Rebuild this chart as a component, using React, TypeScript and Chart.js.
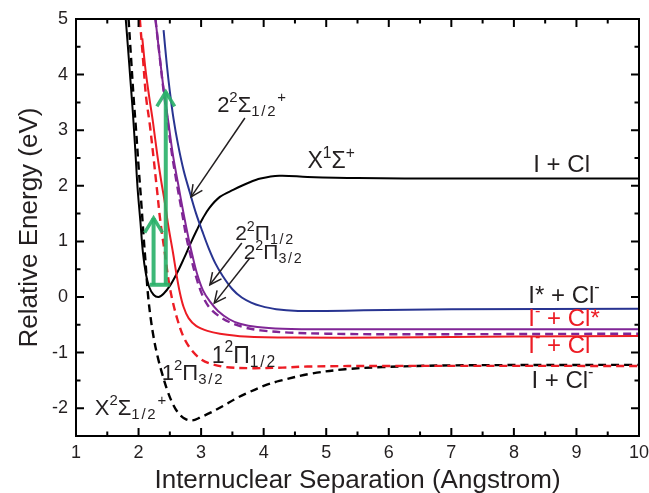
import React, { useEffect, useRef } from 'react';
import { Chart, registerables } from 'chart.js';

Chart.register(...registerables);

// ---------- axis ticks ----------
const X_TICK_VALUES = [1, 2, 3, 4, 5, 6, 7, 8, 9, 10];
const X_TICK_LABELS = ['1', '2', '3', '4', '5', '6', '7', '8', '9', '10'];
const Y_TICK_VALUES = [-2, -1, 0, 1, 2, 3, 4, 5];
const Y_TICK_LABELS = ['-2', '-1', '0', '1', '2', '3', '4', '5'];
const X_MINOR = [1.5, 2.5, 3.5, 4.5, 5.5, 6.5, 7.5, 8.5, 9.5];
const Y_MINOR = [-1.5, -0.5, 0.5, 1.5, 2.5, 3.5, 4.5];

// ---------- potential curves [R (Angstrom), E (eV)] ----------
// X1Σ+ of ICl (black solid)
const X1_SIGMA: [number, number][] = [
  [1.795, 5.0], [1.83, 4.5], [1.87, 3.9], [1.91, 3.3], [1.95, 2.6], [1.985, 1.95],
  [2.03, 1.35], [2.07, 0.8], [2.12, 0.4], [2.17, 0.18], [2.24, 0.04], [2.32, 0.0],
  [2.4, 0.06], [2.5, 0.2], [2.61, 0.42], [2.72, 0.68], [2.83, 0.96], [2.93, 1.2],
  [3.03, 1.42], [3.13, 1.6], [3.3, 1.8], [3.52, 1.93], [3.75, 2.05], [3.95, 2.13],
  [4.25, 2.18], [4.7, 2.16], [5.5, 2.14], [7.0, 2.13], [10.0, 2.13],
];
// X2Σ1/2+ of ICl- (black dashed)
const X2_SIGMA: [number, number][] = [
  [1.84, 5.0], [1.88, 4.3], [1.92, 3.6], [1.96, 3.0], [2.0, 2.35], [2.04, 1.75],
  [2.08, 1.1], [2.11, 0.65], [2.15, 0.05], [2.19, -0.35], [2.24, -0.72], [2.3, -1.05],
  [2.37, -1.35], [2.46, -1.68], [2.56, -1.95], [2.66, -2.12], [2.76, -2.2], [2.86, -2.22],
  [2.98, -2.17], [3.15, -2.08], [3.35, -1.96], [3.55, -1.83], [3.75, -1.72], [4.0, -1.6],
  [4.25, -1.51], [4.75, -1.38], [5.3, -1.3], [5.9, -1.26], [7.0, -1.23], [10.0, -1.22],
];
// 1 2Π3/2 (red dashed)
const PI1_32: [number, number][] = [
  [2.02, 5.0], [2.07, 4.3], [2.12, 3.6], [2.18, 3.1], [2.24, 2.5], [2.29, 1.98],
  [2.35, 1.35], [2.42, 0.79], [2.48, 0.3], [2.54, -0.05], [2.62, -0.4], [2.72, -0.72],
  [2.85, -0.96], [3.0, -1.12], [3.15, -1.2], [3.4, -1.26], [3.8, -1.28], [4.3, -1.27],
  [4.7, -1.25], [6.0, -1.24], [10.0, -1.24],
];
// 1 2Π1/2 (red solid)
const PI1_12: [number, number][] = [
  [2.06, 4.65], [2.11, 4.1], [2.17, 3.6], [2.23, 3.15], [2.3, 2.55], [2.36, 2.1],
  [2.42, 1.7], [2.48, 1.25], [2.55, 0.8], [2.61, 0.38], [2.66, 0.08], [2.72, -0.18],
  [2.8, -0.38], [2.92, -0.52], [3.1, -0.61], [3.3, -0.66], [3.7, -0.71], [4.5, -0.73],
  [6.0, -0.73], [8.0, -0.71], [10.0, -0.7],
];
// 2 2Π1/2 (purple solid)
const PI2_12: [number, number][] = [
  [2.27, 5.0], [2.33, 4.4], [2.4, 3.75], [2.47, 3.2], [2.55, 2.55], [2.63, 2.05],
  [2.72, 1.5], [2.8, 1.05], [2.86, 0.75], [2.94, 0.4], [3.03, 0.12], [3.14, -0.08],
  [3.27, -0.25], [3.45, -0.4], [3.62, -0.48], [3.9, -0.54], [4.3, -0.57], [5.0, -0.58],
  [10.0, -0.58],
];
// 2 2Π3/2 (purple dashed)
const PI2_32: [number, number][] = [
  [2.27, 5.0], [2.33, 4.4], [2.39, 3.8], [2.46, 3.2], [2.53, 2.6], [2.61, 2.05],
  [2.69, 1.55], [2.76, 1.1], [2.83, 0.75], [2.91, 0.4], [3.01, 0.06], [3.12, -0.17],
  [3.27, -0.33], [3.45, -0.45], [3.7, -0.55], [3.95, -0.6], [4.4, -0.64], [5.0, -0.66],
  [6.0, -0.67], [10.0, -0.66],
];
// 2 2Σ1/2+ (blue solid)
const SIGMA2: [number, number][] = [
  [2.4, 4.8], [2.45, 4.2], [2.5, 3.7], [2.56, 3.2], [2.63, 2.75], [2.72, 2.28],
  [2.82, 1.88], [2.92, 1.5], [3.02, 1.18], [3.12, 0.88], [3.23, 0.6], [3.35, 0.37],
  [3.5, 0.14], [3.65, -0.01], [3.8, -0.1], [3.95, -0.16], [4.2, -0.22], [4.55, -0.25],
  [5.0, -0.25], [5.6, -0.24], [7.0, -0.22], [10.0, -0.21],
];

// ---------- excitation arrows (green) ----------
const EXC_BASE_Y = 0.22;
const EXC_BASE_X = [2.18, 2.5];
const EXC_ARROWS: { x: number; top: number }[] = [
  { x: 2.24, top: 1.42 },
  { x: 2.435, top: 3.69 },
];

// ---------- pointer arrows (black) ----------
const POINTERS: { from: [number, number]; to: [number, number] }[] = [
  { from: [3.7, 3.22], to: [2.84, 1.8] },
  { from: [3.65, 0.97], to: [3.14, 0.22] },
  { from: [3.78, 0.7], to: [3.21, -0.11] },
];

// ---------- labels ----------
type Part = [string, 'n' | 'sup' | 'sub'];
const BLACK = '#231f20';
const RED = 'rgb(237,28,36)';
const PURPLE = 'rgb(128,38,150)';
const BLUE = 'rgb(40,52,145)';
const GREEN = 'rgba(40,176,104,0.9)';

const LABELS: { parts: Part[]; at: [number, number]; size: number; color: string }[] = [
  { parts: [['2', 'n'], ['2', 'sup'], ['Σ', 'n'], ['1/2', 'sub'], ['+', 'sup']], at: [3.256, 3.33], size: 22, color: BLACK },
  { parts: [['X', 'n'], ['1', 'sup'], ['Σ', 'n'], ['+', 'sup']], at: [4.7, 2.32], size: 23, color: BLACK },
  { parts: [['2', 'n'], ['2', 'sup'], ['Π', 'n'], ['1/2', 'sub']], at: [3.544, 1.025], size: 21, color: BLACK },
  { parts: [['2', 'n'], ['2', 'sup'], ['Π', 'n'], ['3/2', 'sub']], at: [3.68, 0.68], size: 21, color: BLACK },
  { parts: [['1', 'n'], ['2', 'sup'], ['Π', 'n'], ['1/2', 'sub']], at: [3.17, -1.18], size: 23, color: BLACK },
  { parts: [['1', 'n'], ['2', 'sup'], ['Π', 'n'], ['3/2', 'sub']], at: [2.37, -1.49], size: 22, color: BLACK },
  { parts: [['X', 'n'], ['2', 'sup'], ['Σ', 'n'], ['1/2', 'sub'], ['+', 'sup']], at: [1.3, -2.12], size: 22, color: BLACK },
  { parts: [['I + Cl', 'n']], at: [8.31, 2.25], size: 24, color: BLACK },
  { parts: [['I* + Cl', 'n'], ['-', 'sup']], at: [8.23, -0.1], size: 24, color: BLACK },
  { parts: [['I', 'n'], ['-', 'sup'], [' + Cl*', 'n']], at: [8.23, -0.53], size: 24, color: RED },
  { parts: [['I', 'n'], ['-', 'sup'], [' + Cl', 'n']], at: [8.23, -1.01], size: 24, color: RED },
  { parts: [['I + Cl', 'n'], ['-', 'sup']], at: [8.28, -1.64], size: 24, color: BLACK },
];

const FONT = "'Liberation Sans', Arial, Helvetica, sans-serif";

function drawRich(ctx: CanvasRenderingContext2D, parts: Part[], x: number, y: number, size: number, color: string) {
  let cx = x;
  ctx.fillStyle = color;
  ctx.textAlign = 'left';
  ctx.textBaseline = 'alphabetic';
  for (const [text, mode] of parts) {
    let fs = size;
    let dy = 0;
    let spacing = 0;
    if (mode === 'sup') {
      fs = size * 0.68;
      dy = -size * 0.45;
    } else if (mode === 'sub') {
      fs = size * 0.68;
      dy = size * 0.2;
      spacing = size * 0.08;
    }
    ctx.font = `${fs}px ${FONT}`;
    for (const ch of text) {
      ctx.fillText(ch, cx, y + dy);
      cx += ctx.measureText(ch).width + spacing;
    }
  }
}

function head(ctx: CanvasRenderingContext2D, tx: number, ty: number, fx: number, fy: number, len: number, ang: number) {
  const a = Math.atan2(fy - ty, fx - tx);
  ctx.beginPath();
  ctx.moveTo(tx + len * Math.cos(a + ang), ty + len * Math.sin(a + ang));
  ctx.lineTo(tx, ty);
  ctx.lineTo(tx + len * Math.cos(a - ang), ty + len * Math.sin(a - ang));
  ctx.stroke();
}

const overlay = {
  id: 'overlay',
  afterDatasetsDraw(chart: any) {
    const { ctx, chartArea: a, scales } = chart;
    const xs = scales.x;
    const ys = scales.y;
    const px = (v: number) => xs.getPixelForValue(v);
    const py = (v: number) => ys.getPixelForValue(v);
    ctx.save();
    ctx.lineCap = 'butt';

    // green excitation arrows
    ctx.strokeStyle = GREEN;
    ctx.lineWidth = 4;
    ctx.beginPath();
    ctx.moveTo(px(EXC_BASE_X[0]), py(EXC_BASE_Y));
    ctx.lineTo(px(EXC_BASE_X[1]), py(EXC_BASE_Y));
    ctx.stroke();
    for (const ar of EXC_ARROWS) {
      ctx.lineWidth = 4;
      ctx.beginPath();
      ctx.moveTo(px(ar.x), py(EXC_BASE_Y));
      ctx.lineTo(px(ar.x), py(ar.top));
      ctx.stroke();
      ctx.lineWidth = 3.5;
      head(ctx, px(ar.x), py(ar.top), px(ar.x), py(EXC_BASE_Y), 17, 0.55);
    }

    // black pointer arrows
    ctx.strokeStyle = BLACK;
    ctx.lineWidth = 1.5;
    for (const p of POINTERS) {
      const fx = px(p.from[0]), fy = py(p.from[1]);
      const tx = px(p.to[0]), ty = py(p.to[1]);
      ctx.beginPath();
      ctx.moveTo(fx, fy);
      ctx.lineTo(tx, ty);
      ctx.stroke();
      head(ctx, tx, ty, fx, fy, 13, 0.45);
    }

    // labels
    for (const l of LABELS) {
      drawRich(ctx, l.parts, px(l.at[0]), py(l.at[1]), l.size, l.color);
    }

    // frame
    ctx.strokeStyle = '#000';
    ctx.lineWidth = 2;
    ctx.strokeRect(a.left, a.top, a.right - a.left, a.bottom - a.top);

    // inward ticks on all four sides
    ctx.lineWidth = 2;
    const tickX = (vals: number[], len: number) => {
      for (const v of vals) {
        const x = px(v);
        ctx.beginPath();
        ctx.moveTo(x, a.bottom);
        ctx.lineTo(x, a.bottom - len);
        ctx.moveTo(x, a.top);
        ctx.lineTo(x, a.top + len);
        ctx.stroke();
      }
    };
    const tickY = (vals: number[], len: number) => {
      for (const v of vals) {
        const y = py(v);
        ctx.beginPath();
        ctx.moveTo(a.left, y);
        ctx.lineTo(a.left + len, y);
        ctx.moveTo(a.right, y);
        ctx.lineTo(a.right - len, y);
        ctx.stroke();
      }
    };
    tickX(X_TICK_VALUES, 8);
    tickX(X_MINOR, 4.5);
    tickY(Y_TICK_VALUES, 8);
    tickY(Y_MINOR, 4.5);
    ctx.restore();
  },
};

const toPts = (arr: [number, number][]) => arr.map(([x, y]) => ({ x, y }));

function line(label: string, data: [number, number][], color: string, dashed: boolean) {
  return {
    label,
    data: toPts(data),
    borderColor: color,
    backgroundColor: color,
    borderWidth: dashed ? 2.4 : 2,
    borderDash: dashed ? [8, 5] : [],
    pointRadius: 0,
    fill: false,
    tension: 0.35,
  };
}

export default function App() {
  const ref = useRef<HTMLCanvasElement | null>(null);
  useEffect(() => {
    document.body.style.margin = '0';
    const canvas = ref.current!;
    const chart = new Chart(canvas, {
      type: 'line',
      data: {
        datasets: [
          line('2 2Σ1/2+', SIGMA2, BLUE, false),
          line('2 2Π1/2', PI2_12, PURPLE, false),
          line('2 2Π3/2', PI2_32, PURPLE, true),
          line('1 2Π1/2', PI1_12, RED, false),
          line('1 2Π3/2', PI1_32, RED, true),
          line('X2Σ1/2+', X2_SIGMA, '#000', true),
          line('X1Σ+', X1_SIGMA, '#000', false),
        ],
      },
      options: {
        responsive: false,
        animation: false,
        devicePixelRatio: 1,
        layout: { padding: { top: 19, right: 10, bottom: 0, left: 0 } },
        plugins: { legend: { display: false }, tooltip: { enabled: false } },
        scales: {
          x: {
            type: 'linear',
            min: 1,
            max: 10,
            grid: { display: false, drawTicks: false },
            border: { display: false },
            afterBuildTicks: (s: any) => {
              s.ticks = X_TICK_VALUES.map((v) => ({ value: v }));
            },
            afterFit: (s: any) => {
              s.height = 57;
              s.paddingLeft = 0;
              s.paddingRight = 0;
            },
            ticks: {
              padding: 6,
              color: BLACK,
              maxRotation: 0,
              autoSkip: false,
              font: { family: FONT, size: 18 },
              callback: (v: any) => X_TICK_LABELS[X_TICK_VALUES.indexOf(Number(v))] ?? '',
            },
            title: {
              display: true,
              text: 'Internuclear Separation (Angstrom)',
              color: BLACK,
              padding: { top: 0, bottom: 0 },
              font: { family: FONT, size: 26, lineHeight: 0.92 },
            },
          },
          y: {
            type: 'linear',
            min: -2.5,
            max: 5,
            grid: { display: false, drawTicks: false },
            border: { display: false },
            afterBuildTicks: (s: any) => {
              s.ticks = Y_TICK_VALUES.map((v) => ({ value: v }));
            },
            afterFit: (s: any) => {
              s.width = 76;
              s.paddingTop = 0;
              s.paddingBottom = 0;
            },
            ticks: {
              padding: 8,
              color: BLACK,
              autoSkip: false,
              font: { family: FONT, size: 18 },
              callback: (v: any) => Y_TICK_LABELS[Y_TICK_VALUES.indexOf(Number(v))] ?? '',
            },
            title: {
              display: true,
              text: 'Relative Energy (eV)',
              color: BLACK,
              padding: { top: 18, bottom: 0 },
              font: { family: FONT, size: 26, lineHeight: 0.92 },
            },
          },
        },
      },
      plugins: [overlay],
    });
    return () => chart.destroy();
  }, []);
  return <canvas ref={ref} width={649} height={493} style={{ display: 'block' }} />;
}
